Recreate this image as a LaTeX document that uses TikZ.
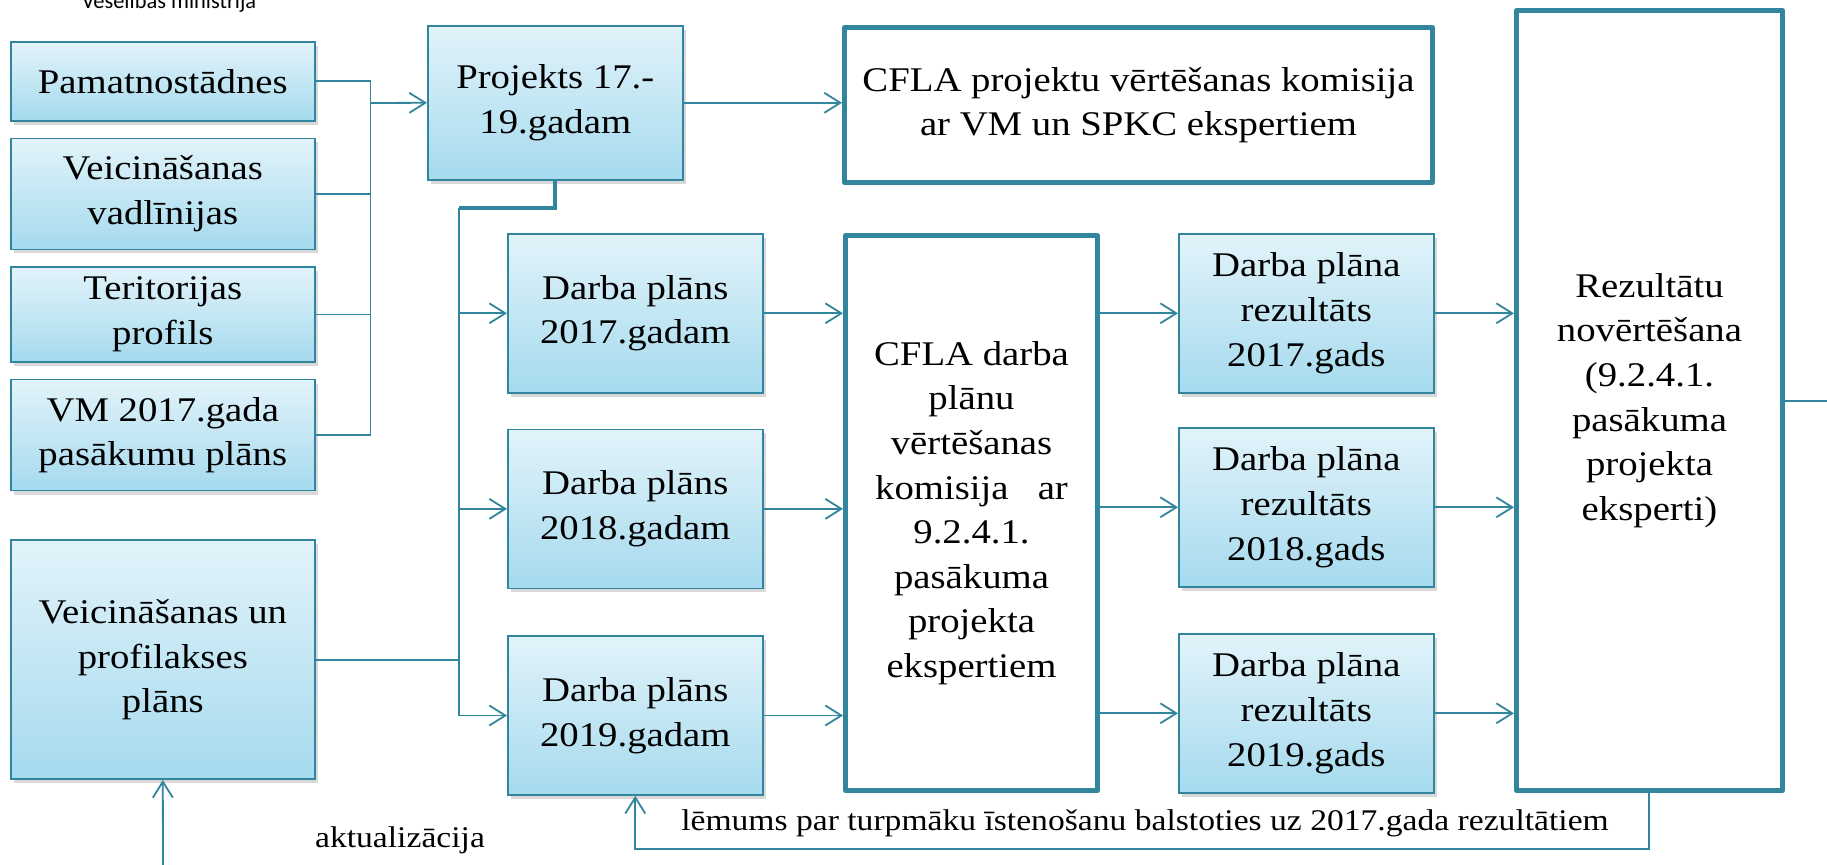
\documentclass[tikz,border=0pt]{standalone}
\usepackage{fontspec}
\setmainfont{Liberation Serif}[FakeStretch=1.12]
\newfontfamily\ministryfont{Carlito}
\usetikzlibrary{arrows.meta, positioning, shadows}
\definecolor{tealLine}{RGB}{49,133,156}
\definecolor{boxTop}{RGB}{226,243,250}
\definecolor{boxBottom}{RGB}{165,218,238}
\newcommand{\boxfont}{\fontsize{17.3}{22.3}\selectfont}
\newcommand{\notefont}{\fontsize{15}{18}\selectfont}

\begin{document}
\begin{tikzpicture}[
        x=0.5pt, y=-0.5pt,
        node distance=8pt,
        gbox/.style={rectangle, draw=tealLine, line width=0.8pt, top color=boxTop, bottom color=boxBottom, drop shadow={opacity=0.3, shadow xshift=1.5pt, shadow yshift=-2pt}, align=center, font=\boxfont, inner sep=2pt},
        srcbox/.style={gbox, minimum width=152pt},
        dbox/.style={gbox, minimum width=127.5pt, minimum height=79.5pt, anchor=north west},
        wbox/.style={rectangle, draw=tealLine, line width=2.5pt, line join=round, fill=white, align=center, font=\boxfont, inner sep=2pt, anchor=north west},
        link/.style={tealLine, line width=0.9pt},
        arrow/.style={link, -{Straight Barb[length=8pt, width=10pt]}},
        note/.style={font=\notefont, inner sep=0pt}
    ]
        \useasboundingbox (0,0) rectangle (1827,865);

        % Header (cut off at the top)
        \node[font=\ministryfont\fontsize{11.2}{13}\selectfont, anchor=base] (ministry) at (169,9) {Veselības ministrija};

        % Sources
        \node[srcbox, minimum height=39.5pt, anchor=north west] (pamat) at (10,41) {Pamatnostādnes};
        \node[srcbox, minimum height=55.5pt, below=8pt of pamat] (veicv) {Veicināšanas\\vadlīnijas};
        \node[srcbox, minimum height=47.5pt, below=8pt of veicv] (terit) {Teritorijas\\profils};
        \node[srcbox, minimum height=55.5pt, below=8pt of terit] (vmplan) {VM 2017.gada\\pasākumu plāns};
        \node[srcbox, minimum height=119.5pt, below=24pt of vmplan] (vupl) {Veicināšanas un\\profilakses\\plāns};

        % Project
        \node[gbox, minimum width=127.5pt, minimum height=77pt, anchor=north west] (proj) at (427,25) {Projekts 17.-\\19.gadam};
        \node[wbox, minimum width=294pt, minimum height=77.5pt] (cflap) at (842,25) {CFLA projektu vērtēšanas komisija\\ar VM un SPKC ekspertiem};

        % Work plans
        \node[dbox] (d17) at (507,233) {Darba plāns\\2017.gadam};
        \node[dbox, below=17.5pt of d17.south west, anchor=north west] (d18) {Darba plāns\\2018.gadam};
        \node[dbox, below=23pt of d18.south west, anchor=north west] (d19) {Darba plāns\\2019.gadam};
        \node[wbox, minimum width=126pt, minimum height=277.5pt] (cfld) at (843,233) {CFLA darba\\plānu\\vērtēšanas\\komisija\ \ \ ar\\9.2.4.1.\\pasākuma\\projekta\\ekspertiem};

        % Results
        \node[dbox] (r17) at (1178,233) {Darba plāna\\rezultāts\\2017.gads};
        \node[dbox] (r18) at (1178,427) {Darba plāna\\rezultāts\\2018.gads};
        \node[dbox] (r19) at (1178,633) {Darba plāna\\rezultāts\\2019.gads};
        \node[wbox, minimum width=133pt, minimum height=390pt] (rezn) at (1514,8) {Rezultātu\\novērtēšana\\(9.2.4.1.\\pasākuma\\projekta\\eksperti)};

        % Labels
        \node[note] (lemums) at (1145,823) {lēmums par turpmāku īstenošanu balstoties uz 2017.gada rezultātiem};
        \node[note] (aktual) at (400,840) {aktualizācija};

        % Junctions
        \coordinate (jL) at (370.5,103);
        \coordinate (jR) at (459,208);
        \coordinate (fb) at (1649,849);
        \coordinate (akt) at (163,865);
        \coordinate (out) at (1827,400.7);

        % Arrows
        \draw[link] (pamat.east) -| (jL);
        \draw[link] (veicv.east) -| (jL);
        \draw[link] (terit.east) -| (jL);
        \draw[link] (vmplan.east) -| (jL);
        \draw[arrow] (jL) -- (proj.west);
        \draw[arrow] (proj.east) -- (proj.east -| cflap.west);

        \draw[link, line width=2pt] (proj.south) |- (jR);
        \draw[link, line width=1.3pt] (jR) -- (jR |- d19);
        \draw[arrow] (jR) |- (d17);
        \draw[arrow] (jR) |- (d18);
        \draw[arrow] (jR) |- (d19);
        \draw[link] (vupl.east) -- (vupl.east -| jR);

        \foreach \n in {17,18,19} {
            \draw[arrow] (d\n) -- (d\n -| cfld.west);
            \draw[arrow] (cfld.east |- r\n) -- (r\n);
            \draw[arrow] (r\n) -- (r\n -| rezn.west);
        }

        \draw[link] (out -| rezn.east) -- (out);
        \draw[arrow] (rezn.south -| fb) -- (fb) -| (d19.south);
        \draw[arrow] (akt) -- (vupl.south);
    \end{tikzpicture}
\end{document}
